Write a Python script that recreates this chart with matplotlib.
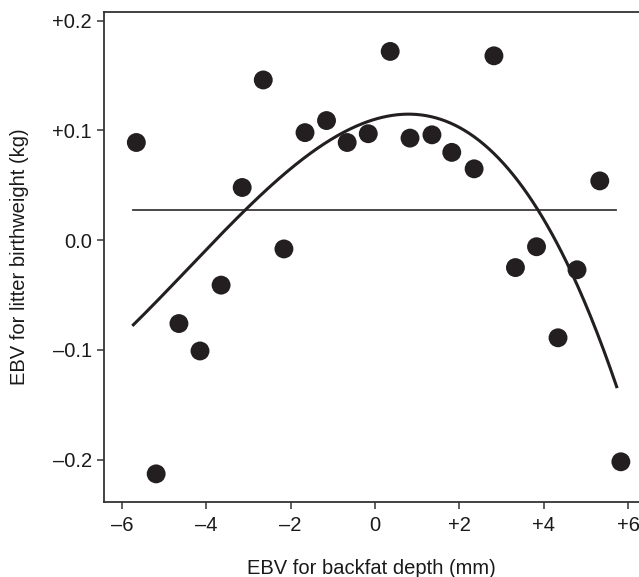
import numpy as np
import matplotlib
matplotlib.use("Agg")
import matplotlib.pyplot as plt

# Scatter data (EBV backfat depth, EBV litter birthweight)
x_pts = [-5.66, -5.19, -4.65, -4.15, -3.65, -3.15, -2.65, -2.16, -1.66, -1.15,
         -0.66, -0.16, 0.36, 0.83, 1.35, 1.82, 2.35, 2.82, 3.33, 3.83,
         4.34, 4.79, 5.33, 5.83]
y_pts = [0.089, -0.213, -0.076, -0.101, -0.041, 0.048, 0.146, -0.008, 0.098, 0.109,
         0.089, 0.097, 0.172, 0.093, 0.096, 0.080, 0.065, 0.168, -0.025, -0.006,
         -0.089, -0.027, 0.054, -0.202]

# Fitted curve, read at several positions
curve_x = [-5.73, -3.08, -1.30, -0.12, 0.83, 3.79, 4.78, 5.73]
curve_y = [-0.0774, 0.0273, 0.0883, 0.1068, 0.1138, 0.0273, -0.030, -0.138]

# Horizontal mean line
hline_y = 0.0273
hline_x = [-5.73, 5.71]

xticks = [-6, -4, -2, 0, 2, 4, 6]
xticklabels = ["\u20136", "\u20134", "\u20132", "0", "+2", "+4", "+6"]
yticks = [0.2, 0.1, 0.0, -0.1, -0.2]
yticklabels = ["+0.2", "+0.1", "0.0", "\u20130.1", "\u20130.2"]

plt.rcParams['font.family'] = ['Liberation Sans', 'DejaVu Sans']

fig = plt.figure(figsize=(6.39, 5.77), dpi=100)
ax = fig.add_axes([0.1632, 0.1295, 1.0 - 0.1632, 0.9797 - 0.1295])

ax.plot(hline_x, [hline_y, hline_y], color='#3a3a3a', lw=1.3, zorder=2)

coef = np.polyfit(curve_x, curve_y, 3)
cx = np.linspace(curve_x[0], curve_x[-1], 300)
ax.plot(cx, np.polyval(coef, cx), color='#231f20', lw=2.2, zorder=3)

ax.scatter(x_pts, y_pts, s=185, color='#231f20', edgecolors='none', zorder=4)

ax.set_xlim(-6.42, 6.26)
ax.set_ylim(-0.2389, 0.2082)
ax.set_xticks(xticks)
ax.set_xticklabels(xticklabels)
ax.set_yticks(yticks)
ax.set_yticklabels(yticklabels)

for s in ['left', 'bottom', 'top']:
    ax.spines[s].set_color('#333333')
    ax.spines[s].set_linewidth(1.3)
ax.spines['right'].set_visible(False)

ax.tick_params(axis='both', direction='out', length=5, width=1.1, color='#333333',
               labelsize=14.5, labelcolor='#1a1a1a')
ax.tick_params(axis='y', pad=4)
ax.tick_params(axis='x', pad=5)

ax.set_xlabel("EBV for backfat depth (mm)", fontsize=14.5, color='#1a1a1a', labelpad=17)
ax.set_ylabel("EBV for litter birthweight (kg)", fontsize=14.5, color='#1a1a1a', labelpad=17)

fig.savefig("out.png", dpi=100)
